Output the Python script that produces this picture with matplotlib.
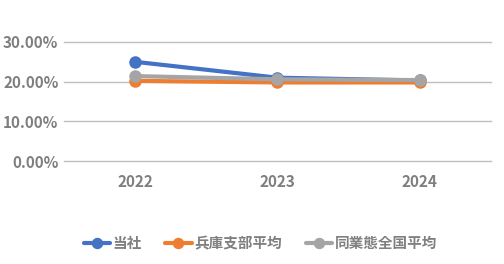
import matplotlib
matplotlib.use('Agg')
import matplotlib.pyplot as plt
from matplotlib.ticker import PercentFormatter

plt.rcParams['font.family'] = ['Noto Sans CJK JP', 'DejaVu Sans']

years = ['2022', '2023', '2024']
series_names = ['当社', '兵庫支部平均', '同業態全国平均']
tousha = [0.250, 0.210, 0.203]
hyogo = [0.202, 0.198, 0.198]
zenkoku = [0.214, 0.206, 0.204]
colors = ['#4472C4', '#ED7D31', '#A5A5A5']

fig = plt.figure(figsize=(5.04, 2.64), dpi=100)
ax = fig.add_axes([0.127, 0.39, 0.847, 0.451])

x = range(len(years))
for vals, name, c in zip([tousha, hyogo, zenkoku], series_names, colors):
    ax.plot(x, vals, color=c, lw=3, marker='o', ms=8, label=name,
            solid_capstyle='round')

ax.set_xlim(-0.5, 2.5)
ax.set_ylim(0, 0.30)
ax.set_yticks([0, 0.1, 0.2, 0.3])
ax.yaxis.set_major_formatter(PercentFormatter(1.0, decimals=2))
ax.set_xticks(list(x))
ax.set_xticklabels(years)
ax.grid(axis='y', color='#BFBFBF', lw=1.0)
ax.set_axisbelow(True)
for gl in ax.get_ygridlines():
    gl.set_clip_on(False)
for s in ax.spines.values():
    s.set_visible(False)
ax.tick_params(length=0, colors='#7F7F7F', labelsize=11, pad=4)
ax.tick_params(axis='x', pad=9)
for lab in ax.get_xticklabels() + ax.get_yticklabels():
    lab.set_fontweight('bold')

leg = ax.legend(loc='upper center', bbox_to_anchor=(0.46, -0.51), ncol=3, frameon=False,
                fontsize=10.5, handlelength=1.8, handletextpad=0.2,
                columnspacing=1.6, markerscale=0.9)
for t in leg.get_texts():
    t.set_color('#7F7F7F')
    t.set_fontweight('bold')

fig.savefig('out.png')
